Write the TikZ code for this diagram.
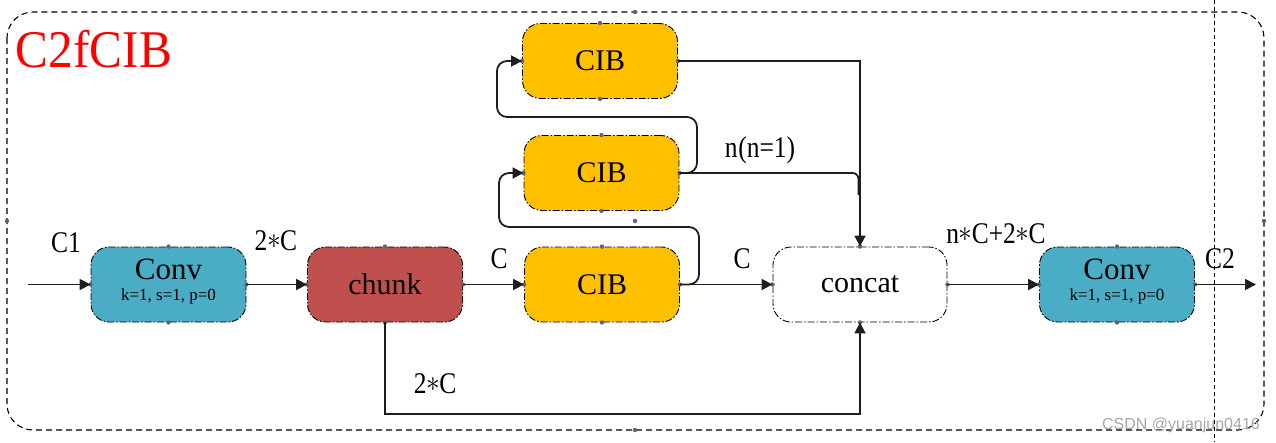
\documentclass[tikz,border=0pt]{standalone}
\usepackage{fontspec}
\setmainfont{Liberation Serif}
\newfontfamily\wmfont{Liberation Sans}
\usetikzlibrary{arrows.meta}
\definecolor{tealc}{HTML}{4BACC6}
\definecolor{redc}{HTML}{C0504D}
\definecolor{yelc}{HTML}{FFC000}
\definecolor{dotc}{HTML}{5F6577}
\definecolor{linec}{HTML}{1E1E1E}
\newcommand{\lb}[1]{\scalebox{0.85}[1]{\fontsize{30}{30}\selectfont #1}}
\newcommand{\st}{\makebox[0.5em]{\raisebox{0.04em}{\scalebox{1.3}[1.2]{$\ast$}}}}
\tikzset{
  box/.style={rectangle, rounded corners=18pt, minimum width=155pt, minimum height=75pt,
    inner sep=0pt, draw=black, line width=0.9pt,
    dash pattern=on 7pt off 2pt on 1.5pt off 2pt, font=\fontsize{30}{30}\selectfont},
  convbox/.style={box, fill=tealc},
  chunkbox/.style={box, fill=redc},
  cibbox/.style={box, fill=yelc},
  catbox/.style={box, fill=white, minimum width=174pt},
  lab/.style={anchor=base, inner sep=0pt},
  conn/.style={draw=linec, line width=1.8pt},
  arr/.style={conn, -{Triangle[length=11pt,width=11pt]}},
}
\begin{document}
\begin{tikzpicture}[x=1pt,y=-1pt]
\useasboundingbox (0,0) rectangle (1276,442);
% outer frame
\draw[line width=1.1pt, dash pattern=on 6pt off 4pt, rounded corners=26pt] (7,12) rectangle (1264,430);
\draw[line width=1pt, dash pattern=on 4pt off 3pt] (1214,0) -- (1214,442);
\foreach \p in {(7,221),(635,12),(635,430),(1264,221),(635,221)} \fill[dotc] \p circle (2.2);

% title
\node[lab, text=red] (title) at (94,67) {\scalebox{0.93}[1]{\fontsize{53}{53}\selectfont C2fCIB}};

% boxes
\node[convbox] (conv1) at (168.5,284.5) {};
\node[lab, font=\fontsize{31}{31}\selectfont] (conv1t) at ([yshift=5.5pt]conv1.center) {Conv};
\node[lab, font=\fontsize{17}{17}\selectfont] (conv1p) at ([yshift=-15.5pt]conv1.center) {k=1, s=1, p=0};
\node[chunkbox] (chunk) at (385,284.5) {chunk};
\node[cibbox] (cib1) at (602,284.5) {CIB};
\node[cibbox] (cib2) at (601.5,173) {CIB};
\node[cibbox] (cib3) at (600,61) {CIB};
\node[catbox] (concat) at (860,284.5) {concat};
\node[convbox] (conv2) at (1117,284.5) {};
\node[lab, font=\fontsize{31}{31}\selectfont] (conv2t) at ([yshift=5.5pt]conv2.center) {Conv};
\node[lab, font=\fontsize{17}{17}\selectfont] (conv2p) at ([yshift=-15.5pt]conv2.center) {k=1, s=1, p=0};

\foreach \n in {conv1,chunk,cib1,cib2,cib3,concat,conv2}
  \foreach \a in {north,south,east,west} \fill[dotc] (\n.\a) circle (2.2);

% coordinates
\coordinate (in) at (28,284.5);
\coordinate (out) at (1256,284.5);
\coordinate (skip) at (860,414);
\coordinate (merge) at (858.5,195);
\coordinate (l1a) at (699,227);
\coordinate (l1b) at (499,173);
\coordinate (l2a) at (697,117);
\coordinate (l2b) at (497,61);

% connectors
\draw[arr] (in) -- (conv1.west);
\draw[arr] (conv1.east) -- (chunk.west);
\draw[arr] (chunk.east) -- (cib1.west);
\draw[arr] (cib1.east) -- (concat.west);
\draw[arr] (concat.east) -- (conv2.west);
\draw[arr] (conv2.east) -- (out);
\draw[arr] (chunk.south) |- (skip) -- (concat.south);
\draw[arr] (cib3.east) -| (concat.north);
\draw[conn, rounded corners=6pt] (cib2.east) -| (merge);
\draw[arr, rounded corners=10pt] (cib1.east) -| (l1a) -| (l1b) -- (cib2.west);
\draw[arr, rounded corners=10pt] (cib2.east) -| (l2a) -| (l2b) -- (cib3.west);

% labels
\node[lab] (lc1) at (66,252) {\lb{C1}};
\node[lab] (l2c) at (276,250) {\lb{2\st C}};
\node[lab] (lca) at (499,268) {\lb{C}};
\node[lab] (lcb) at (742,268) {\lb{C}};
\node[lab] (lnn) at (760,157) {\lb{n\kern1pt(n=1)}};
\node[lab] (lsum) at (996,243) {\lb{n\st C+2\st C}};
\node[lab] (lc2) at (1220,268) {\lb{C2}};
\node[lab] (l2cb) at (435,393) {\lb{2\st C}};

% watermark
\node[anchor=base, inner sep=0pt, text=gray!70, font=\fontsize{16}{16}\wmfont] (wm) at (1181,429) {CSDN @yuanjun0416};
\end{tikzpicture}
\end{document}
